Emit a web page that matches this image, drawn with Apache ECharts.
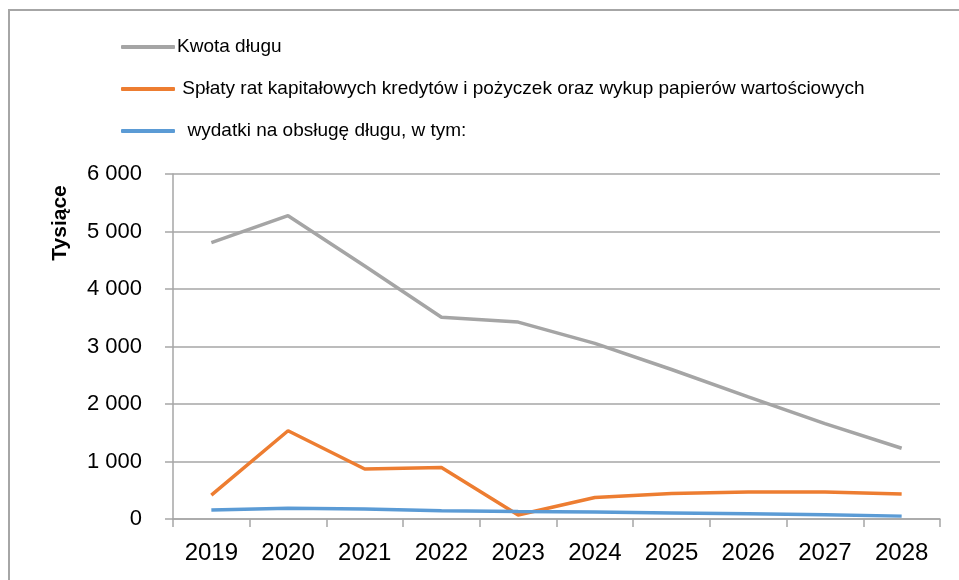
<!DOCTYPE html>
<html>
<head>
<meta charset="utf-8">
<script src="https://cdn.jsdelivr.net/npm/echarts@6/dist/echarts.min.js"></script>
<style>
html,body{margin:0;padding:0;background:#fff;}
#chart{width:959px;height:580px;}
</style>
</head>
<body>
<div id="chart"></div>
<script>
var categories = ['2019','2020','2021','2022','2023','2024','2025','2026','2027','2028'];
var kwotaDlugu = [4805, 5275, 4400, 3510, 3425, 3055, 2600, 2125, 1660, 1230];
var splaty = [415, 1535, 870, 895, 70, 375, 445, 470, 470, 435];
var wydatki = [155, 185, 175, 145, 130, 120, 105, 90, 75, 50];
var seriesNames = ['Kwota długu', ' Spłaty rat kapitałowych kredytów i pożyczek oraz wykup papierów wartościowych', '  wydatki na obsługę długu, w tym:'];
var yTicks = [0, 1000, 2000, 3000, 4000, 5000, 6000];
var yAxisTitle = 'Tysiące';

var font = 'Liberation Sans, Arial, sans-serif';
var chart = echarts.init(document.getElementById('chart'));
function fmt(v){ return String(v).replace(/\B(?=(\d{3})+(?!\d))/g, ' '); }
chart.setOption({
  animation: false,
  graphic: [
    {type:'rect', shape:{x:9, y:10, width:1000, height:1000}, style:{fill:'none', stroke:'#a6a6a6', lineWidth:2}, z:-1},
    {type:'text', x:60, y:223, rotation:Math.PI/2, style:{text:yAxisTitle, font:'bold 21px Liberation Sans, Arial, sans-serif', fill:'#000', textAlign:'center', textVerticalAlign:'middle'}}
  ],
  legend: {
    orient: 'vertical', left: 116, top: 32,
    itemWidth: 54, itemHeight: 4, itemGap: 22,
    icon: 'roundRect',
    textStyle: {fontFamily: font, fontSize: 19, color: '#000', lineHeight: 20, padding:[0,0,0,-3]},
    data: seriesNames
  },
  grid: {left: 173, right: 19, top: 174, bottom: 61, containLabel: false},
  xAxis: {
    type: 'category', data: categories, boundaryGap: true,
    axisLine: {lineStyle: {color: '#a6a6a6', width: 1.5}},
    axisTick: {show: true, length: 8, lineStyle: {color: '#a6a6a6', width: 1.5}},
    axisLabel: {fontFamily: font, fontSize: 24, color: '#000', margin: 22}
  },
  yAxis: {
    type: 'value', min: yTicks[0], max: yTicks[yTicks.length-1], interval: 1000,
    axisLine: {show: true, lineStyle: {color: '#a6a6a6', width: 1.5}},
    axisTick: {show: true, length: 8, lineStyle: {color: '#a6a6a6', width: 1.5}},
    splitLine: {lineStyle: {color: '#a6a6a6', width: 1.5}},
    axisLabel: {fontFamily: font, fontSize: 22, color: '#000', margin: 31, formatter: fmt}
  },
  series: [
    {name: seriesNames[0], type: 'line', data: kwotaDlugu, showSymbol: false, symbol:'none', lineStyle: {color: '#A5A5A5', width: 3.5}, itemStyle:{color:'#A5A5A5'}},
    {name: seriesNames[1], type: 'line', data: splaty, showSymbol: false, symbol:'none', lineStyle: {color: '#ED7D31', width: 3.5}, itemStyle:{color:'#ED7D31'}},
    {name: seriesNames[2], type: 'line', data: wydatki, showSymbol: false, symbol:'none', lineStyle: {color: '#5B9BD5', width: 3.5}, itemStyle:{color:'#5B9BD5'}}
  ]
});
</script>
</body>
</html>
